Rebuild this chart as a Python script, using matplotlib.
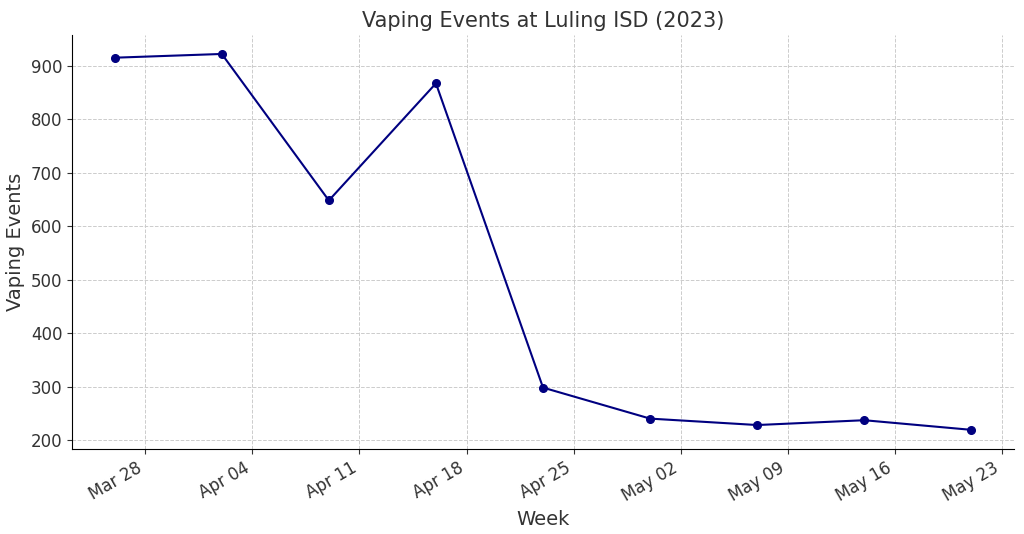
import matplotlib
matplotlib.use("Agg")
import matplotlib.pyplot as plt
import matplotlib.dates as mdates
import pandas as pd

weeks = ["2023-03-26","2023-04-02","2023-04-09","2023-04-16","2023-04-23",
         "2023-04-30","2023-05-07","2023-05-14","2023-05-21"]
events = [915, 922, 648, 867, 298, 240, 228, 237, 219]
dates = pd.to_datetime(weeks)

fig = plt.figure(figsize=(10.24, 5.34), dpi=100)
ax = fig.add_axes([0.0703, 0.159, 0.920, 0.775])
ax.plot(dates, events, color="navy", marker="o", markersize=5.5, linewidth=1.5)
ax.set_title("Vaping Events at Luling ISD (2023)", fontsize=15, color="#333333")
ax.set_xlabel("Week", fontsize=14, color="#333333")
ax.set_ylabel("Vaping Events", fontsize=14, color="#333333")
ax.grid(True, linestyle="--", color="#cccccc", linewidth=0.7)
ax.spines["top"].set_visible(False)
ax.spines["right"].set_visible(False)
ax.set_ylim(183, 957)
ax.set_xlim(pd.Timestamp("2023-03-23 05:00"), pd.Timestamp("2023-05-23 19:00"))
ax.xaxis.set_major_locator(mdates.WeekdayLocator(byweekday=mdates.TU))
ax.xaxis.set_major_formatter(mdates.DateFormatter("%b %d"))
ax.tick_params(labelsize=12, colors="#333333")
plt.setp(ax.get_xticklabels(), rotation=30, ha="right")
fig.savefig("out.png", dpi=100)
